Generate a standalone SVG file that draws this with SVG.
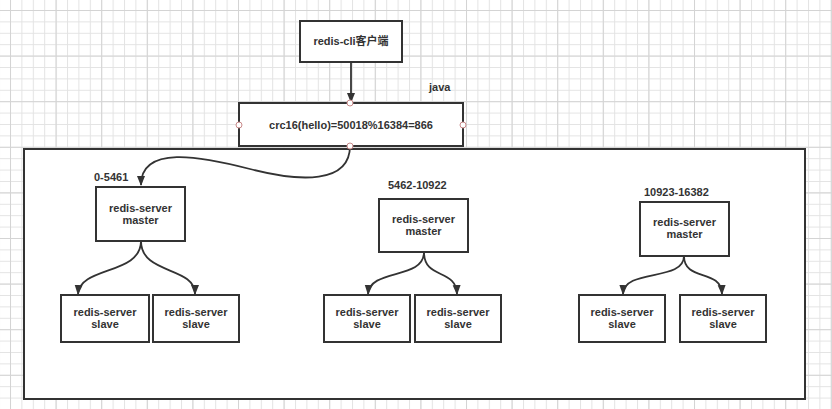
<svg xmlns="http://www.w3.org/2000/svg" width="832" height="409" viewBox="0 0 832 409">
<style>
.box{fill:#ffffff;stroke:#333333;stroke-width:2}
.t{font-family:"Liberation Sans","Noto Sans CJK SC",Arial,sans-serif;font-size:11px;font-weight:bold;fill:#333333;text-anchor:middle}
.lbl{font-family:"Liberation Sans",Arial,sans-serif;font-size:11px;font-weight:bold;fill:#333333}
.edge{fill:none;stroke:#333333;stroke-width:1.8}
.handle{fill:#ffffff;stroke:#c98a8a;stroke-width:1}
</style>
<defs>
<pattern id="minor" width="11.4" height="11.4" patternUnits="userSpaceOnUse" x="10" y="10">
<path d="M0 0.5H11.4M0.5 0V11.4" fill="none" stroke="#e3e3e3" stroke-width="1"/>
</pattern>
<pattern id="major" width="45.6" height="45.6" patternUnits="userSpaceOnUse" x="10" y="10">
<path d="M0 0.5H45.6M0.5 0V45.6" fill="none" stroke="#d4d4d4" stroke-width="1"/>
</pattern>
<marker id="arr" markerWidth="10" markerHeight="10" viewBox="0 0 10 10" refX="9" refY="5" orient="auto" markerUnits="userSpaceOnUse">
<path d="M0 1 L10 5 L0 9 Z" fill="#333333"/>
</marker>
</defs>
<rect width="832" height="409" fill="#ffffff"/>
<rect width="832" height="409" fill="url(#minor)"/>
<rect width="832" height="409" fill="url(#major)"/>
<rect id="cluster" x="24" y="149" width="781" height="250" fill="#ffffff" stroke="#333333" stroke-width="2"/>
<g id="client"><rect class="box" x="300" y="21" width="102" height="41"/><text class="t" x="351" y="45">redis-cli客户端</text></g>
<g id="crc"><rect class="box" x="239" y="103" width="224" height="43"/><text class="t" x="351" y="129">crc16(hello)=50018%16384=866</text></g>
<text class="lbl" x="429" y="91">java</text>
<g id="master1"><rect class="box" x="96" y="187" width="89" height="54"/><text class="t" x="140.5" y="212">redis-server</text><text class="t" x="140.5" y="224">master</text></g>
<text class="lbl" x="94" y="181">0-5461</text>
<g id="slave1a"><rect class="box" x="61" y="295" width="88" height="47"/><text class="t" x="105" y="316">redis-server</text><text class="t" x="105" y="328">slave</text></g>
<g id="slave1b"><rect class="box" x="153" y="295" width="86" height="47"/><text class="t" x="196" y="316">redis-server</text><text class="t" x="196" y="328">slave</text></g>
<g id="master2"><rect class="box" x="379" y="199" width="89" height="53"/><text class="t" x="423.5" y="223">redis-server</text><text class="t" x="423.5" y="235">master</text></g>
<text class="lbl" x="388" y="189">5462-10922</text>
<g id="slave2a"><rect class="box" x="324" y="295" width="86" height="47"/><text class="t" x="367" y="316">redis-server</text><text class="t" x="367" y="328">slave</text></g>
<g id="slave2b"><rect class="box" x="415" y="295" width="86" height="47"/><text class="t" x="458" y="316">redis-server</text><text class="t" x="458" y="328">slave</text></g>
<g id="master3"><rect class="box" x="640" y="202" width="89" height="54"/><text class="t" x="684.5" y="226">redis-server</text><text class="t" x="684.5" y="238">master</text></g>
<text class="lbl" x="644" y="196">10923-16382</text>
<g id="slave3a"><rect class="box" x="579" y="295" width="86" height="47"/><text class="t" x="622" y="316">redis-server</text><text class="t" x="622" y="328">slave</text></g>
<g id="slave3b"><rect class="box" x="680" y="295" width="86" height="47"/><text class="t" x="723" y="316">redis-server</text><text class="t" x="723" y="328">slave</text></g>
<g id="connectors">
<path class="edge" d="M351 62 V102" marker-end="url(#arr)"/>
<path class="edge" d="M350 146 C350 184 300 182 250 169 C200 156 141 145 141 185" marker-end="url(#arr)"/>
<path class="edge" d="M141 241 C141 275 80 266 78 294" marker-end="url(#arr)"/>
<path class="edge" d="M141 241 C141 275 195 266 195 294" marker-end="url(#arr)"/>
<path class="edge" d="M424 252 C424 280 370 268 368 294" marker-end="url(#arr)"/>
<path class="edge" d="M424 252 C424 280 456 268 457 294" marker-end="url(#arr)"/>
<path class="edge" d="M684 256 C684 282 624 268 623 294" marker-end="url(#arr)"/>
<path class="edge" d="M684 256 C684 282 721 268 722 294" marker-end="url(#arr)"/>
</g>
<g id="handles">
<circle class="handle" cx="350" cy="103" r="3"/>
<circle class="handle" cx="239" cy="125" r="3"/>
<circle class="handle" cx="463" cy="125" r="3"/>
<circle class="handle" cx="350" cy="146" r="3"/>
</g>
</svg>
